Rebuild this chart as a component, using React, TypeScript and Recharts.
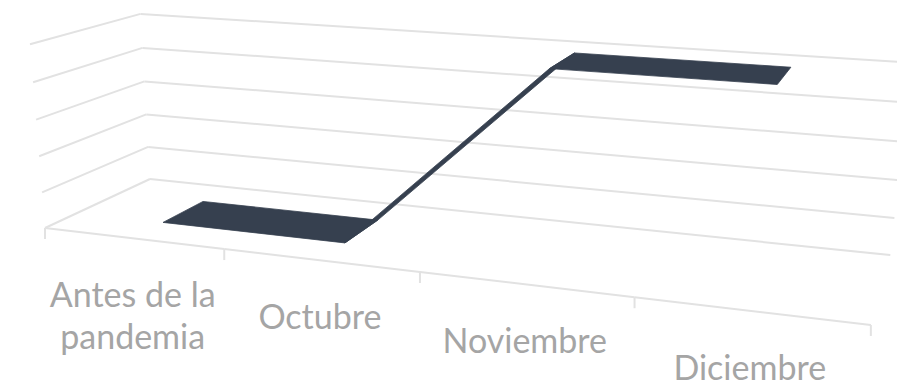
import { LineChart, Line, XAxis, YAxis, CartesianGrid } from "recharts"

const categories = ["Antes de la pandemia", "Octubre", "Noviembre", "Diciembre"]
const values = [0, 0, 100, 100]
const yTicks = [0, 20, 40, 60, 80, 100]

const data = categories.map((cat, i) => ({ cat, value: values[i] }))

const W = 897
const H = 384
const margin = { top: 10, right: 10, bottom: 10, left: 10 }
const AXIS_H = 20
const plotW = W - margin.left - margin.right
const plotH = H - margin.top - margin.bottom - AXIS_H
const steps = yTicks.length - 1

const GRID = "#e2e2e2"
const RIBBON = "#36404f"
const TEXT = "#a5a5a5"
// depth of the ribbon inside the box (0 = front, 1 = back wall)
const Z0 = 0.287
const Z1 = 0.698

// flat pixel from recharts -> box coordinates
const toX = (px: number) => (px - margin.left) / (plotW / categories.length)
const toY = (py: number) => ((margin.top + plotH - py) / plotH) * steps

// perspective camera fitted to the excel 3D view
function proj(X: number, Y: number, Z: number): [number, number] {
  const w = 1 - 0.0421 * X - 0.008 * Y + 0.12 * Z
  return [(45 + 169.8 * X - 3.24 * Y + 123 * Z) / w, (228 + 10.56 * X - 37.1 * Y - 27.5 * Z) / w]
}

const seg = (a: [number, number], b: [number, number], key: string) => (
  <line key={key} x1={a[0]} y1={a[1]} x2={b[0]} y2={b[1]} stroke={GRID} strokeWidth={2} />
)

function gridLine(props: any) {
  const Y = toY(props.y1)
  const n = categories.length
  return (
    <g key={`grid-${props.index}`}>
      {seg(proj(0, Y, 0), proj(0, Y, 1), "side")}
      {seg(proj(0, Y, 1), proj(n, Y, 1), "back")}
    </g>
  )
}

function wrap(label: string, max = 11) {
  const lines: string[] = []
  let cur = ""
  for (const w of label.split(" ")) {
    const next = cur ? cur + " " + w : w
    if (next.length > max && cur) {
      lines.push(cur)
      cur = w
    } else cur = next
  }
  if (cur) lines.push(cur)
  return lines
}

function CategoryTick(props: any) {
  const { x, payload, index } = props
  const X = toX(x)
  const [ax, ay] = proj(X, 0, 0)
  const left = proj(X - 0.5, 0, 0)
  const right = proj(X + 0.5, 0, 0)
  const last = index === categories.length - 1
  return (
    <g>
      {seg(left, right, "edge")}
      {seg(left, [left[0], left[1] + 11], "tl")}
      {last && seg(right, [right[0], right[1] + 11], "tr")}
      <text x={ax} y={ay + 69} textAnchor="middle" fill={TEXT} fontSize={34} fontFamily="Lato, 'Open Sans', sans-serif">
        {wrap(String(payload.value)).map((t, i) => (
          <tspan key={i} x={ax} dy={i === 0 ? 0 : 42}>
            {t}
          </tspan>
        ))}
      </text>
    </g>
  )
}

const pts: { X: number; Y: number }[] = []
function RibbonDot(props: any) {
  const { cx, cy, index } = props
  pts[index] = { X: toX(cx), Y: toY(cy) }
  if (index === 0) return <g key="rib-0" />
  const p = pts[index - 1]
  const q = pts[index]
  const poly = [proj(p.X, p.Y, Z0), proj(q.X, q.Y, Z0), proj(q.X, q.Y, Z1), proj(p.X, p.Y, Z1)]
  return <polygon key={`rib-${index}`} points={poly.map((c) => c.join(",")).join(" ")} fill={RIBBON} stroke={RIBBON} strokeWidth={0.8} strokeLinejoin="round" />
}

export default function App() {
  return (
    <div style={{ position: "absolute", left: 0, top: 0, background: "#fff" }}>
      <LineChart width={W} height={H} data={data} margin={margin}>
        <CartesianGrid vertical={false} horizontal={gridLine} />
        <XAxis dataKey="cat" scale="band" height={AXIS_H} axisLine={false} tickLine={false} interval={0} tick={CategoryTick} />
        <YAxis hide domain={[0, 100]} ticks={yTicks} />
        <Line dataKey="value" stroke="none" dot={RibbonDot} activeDot={false} isAnimationActive={false} />
      </LineChart>
    </div>
  )
}
